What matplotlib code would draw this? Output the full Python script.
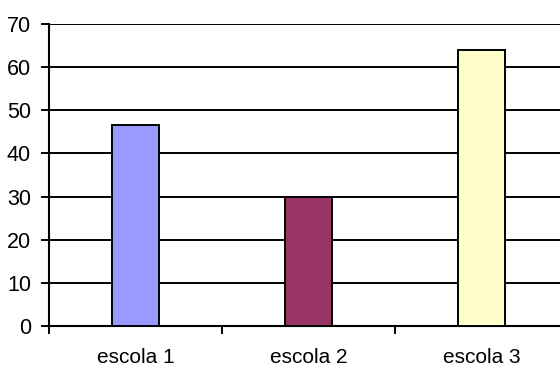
import numpy as np
import matplotlib.pyplot as plt

escolas = ['escola 1', 'escola 2', 'escola 3']
valores = [46.5, 30, 64]
cores = ['#9999FF', '#993366', '#FFFFCC']
y_ticks = [0, 10, 20, 30, 40, 50, 60, 70]

plt.rcParams['font.family'] = ['Liberation Sans', 'DejaVu Sans']

fig = plt.figure(figsize=(5.6, 3.67), dpi=100)
ax = fig.add_axes([49 / 560, 1 - 326 / 367, 519 / 560, 302 / 367])

x = np.arange(len(escolas))
ax.bar(x, valores, width=0.277, color=cores, edgecolor='black', linewidth=1.4, zorder=3)

ax.set_xlim(-0.5, len(escolas) - 0.5)
ax.set_ylim(0, 70)
ax.set_yticks(y_ticks)
ax.yaxis.grid(True, color='black', linewidth=1.4, zorder=0)
ax.set_axisbelow(True)

# labels at bar centres, tick marks at category boundaries
ax.set_xticks(x)
ax.set_xticklabels(escolas)
ax.set_xticks(np.arange(len(escolas) + 1) - 0.5, minor=True)
ax.tick_params(axis='x', which='major', length=0, pad=16, labelsize=15)
ax.tick_params(axis='x', which='minor', length=6, width=1.4, direction='out')
ax.tick_params(axis='y', length=6, width=1.4, pad=7, labelsize=15.5)

for side in ['top', 'right']:
    ax.spines[side].set_visible(False)
ax.spines['left'].set_linewidth(1.5)
ax.spines['bottom'].set_linewidth(1.5)

fig.savefig('out.png', dpi=100)
